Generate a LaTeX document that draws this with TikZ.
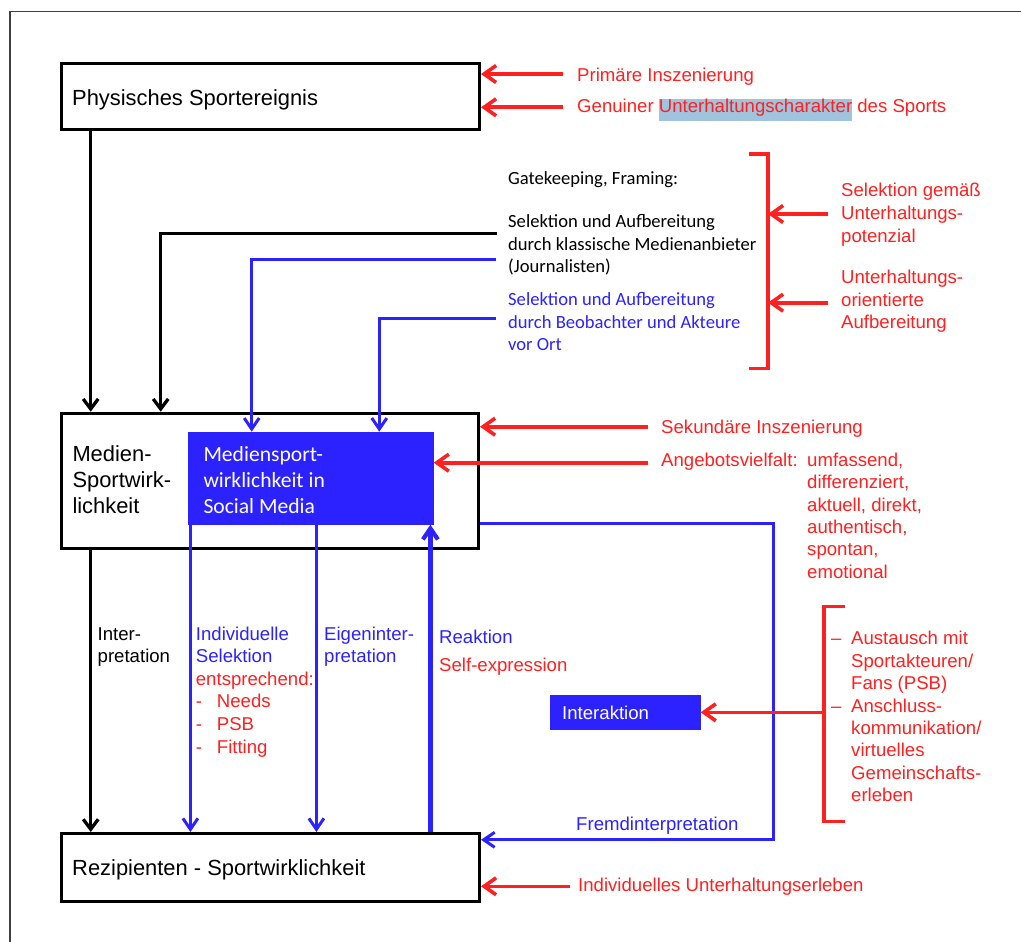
\documentclass[tikz,border=0pt]{standalone}
\usepackage{fontspec}
\setmainfont{Liberation Sans}
\newfontfamily\calibrifont{Carlito}
\usetikzlibrary{arrows.meta}
\definecolor{myred}{RGB}{255,32,32}
\definecolor{myblue}{RGB}{43,34,255}
\definecolor{hlblue}{RGB}{160,196,222}
\newcommand\fBox{\fontsize{21.9}{26.3}\selectfont}
\newcommand\fLab{\fontsize{18.6}{22.6}\selectfont}
\newcommand\fCal{\calibrifont\fontsize{18.6}{22.5}\selectfont}
\newcommand\fCalB{\calibrifont\fontsize{21.6}{25.9}\selectfont}
\begin{document}
\begin{tikzpicture}[x=1pt,y=-1pt,
  bx/.style={draw=black,line width=3pt,inner sep=0pt,anchor=north west},
  fbx/.style={fill=myblue,inner sep=0pt,anchor=north west},
  lbl/.style={inner sep=0pt,anchor=north west,align=left},
  rlab/.style={lbl,text=myred,font=\fLab},
  ulab/.style={lbl,text=myblue,font=\fLab},
  klab/.style={lbl,text=black,font=\fLab},
  arrK/.style={draw=black,line width=3.3pt,-{Straight Barb[length=10pt,width=15pt]}},
  arrU/.style={draw=myblue,line width=3pt,-{Straight Barb[length=11pt,width=15pt]}},
  arrR/.style={draw=myred,line width=3.6pt,-{Straight Barb[length=12pt,width=17pt]}},
  brk/.style={draw=myred,line width=3.4pt}]
\useasboundingbox (0,0) rectangle (1021,942);
% outer frame
\draw[line width=1.3pt,black!75] (10,942) -- (10,11.7) -- (1021,11.7);

% boxes
\node[bx,minimum width=418pt,minimum height=66pt] (b1) at (60,61.7) {};
\node[bx,minimum width=417pt,minimum height=135pt] (b2) at (60,411.7) {};
\node[bx,minimum width=418pt,minimum height=68pt] (b3) at (60,832) {};
\node[fbx,minimum width=245.6pt,minimum height=92.6pt] (mb) at (187.7,431.7) {};
\node[fbx,minimum width=151pt,minimum height=35.7pt] (ib) at (549.3,694.3) {};

% box texts
\node[lbl,font=\fBox] (t1) at (72,86.7) {\strut Physisches Sportereignis};
\node[lbl,font=\fBox] (t2) at (72.3,442.7) {\strut Medien-\\Sportwirk-\\lichkeit};
\node[lbl,font=\fBox] (t3) at (72,857) {\strut Rezipienten - Sportwirklichkeit};
\node[lbl,font=\fCalB,text=white] (tm) at (203.3,443.6) {\strut Mediensport-\\wirklichkeit in\\Social Media};
\node[lbl,font=\fLab,text=white] (ti) at (562,703.5) {\strut Interaktion};

% right labels
\node[rlab] (lp1) at (577,65.8) {\strut Primäre Inszenierung};
\node[rlab] (lp2) at (577,96.8) {\strut Genuiner {\setlength{\fboxsep}{0pt}\colorbox{hlblue}{\rule[-8pt]{0pt}{21pt}Unterhaltungscharakter}} des Sports};
\node[lbl,font=\fCal] (lg) at (508,168.5) {\strut Gatekeeping, Framing:};
\node[lbl,font=\fCal] (ls1) at (508,212) {\strut Selektion und Aufbereitung\\durch klassische Medienanbieter\\(Journalisten)};
\node[lbl,font=\fCal,text=myblue] (ls2) at (508,289.6) {\strut Selektion und Aufbereitung\\durch Beobachter und Akteure\\vor Ort};
\node[rlab] (lsg) at (841,180.8) {\strut Selektion gemäß\\Unterhaltungs-\\potenzial};
\node[rlab] (lua) at (841,267.5) {\strut Unterhaltungs-\\orientierte\\Aufbereitung};
\node[rlab] (lsek) at (661,417.5) {\strut Sekundäre Inszenierung};
\node[rlab] (lang) at (661,450.8) {\strut Angebotsvielfalt:};
\node[rlab,font=\fontsize{18.6}{22.3}\selectfont] (lang2) at (807,450.8) {\strut umfassend,\\differenziert,\\aktuell, direkt,\\authentisch,\\spontan,\\emotional};
\node[klab] (lint) at (97.5,624.1) {\strut Inter-\\pretation};
\node[lbl,font=\fLab] (lsel) at (195.7,624.1) {\strut\textcolor{myblue}{Individuelle}\\\textcolor{myblue}{Selektion}\\\textcolor{myred}{entsprechend:}\\\textcolor{myred}{\makebox[21pt][l]{-}Needs}\\\textcolor{myred}{\makebox[21pt][l]{-}PSB}\\\textcolor{myred}{\makebox[21pt][l]{-}Fitting}};
\node[ulab] (leig) at (324,624.1) {\strut Eigeninter-\\pretation};
\node[ulab] (lrea) at (439,627.5) {\strut Reaktion};
\node[rlab] (lself) at (439,655.8) {\strut Self-expression};
\node[rlab,font=\fontsize{18.6}{22.4}\selectfont] (lex) at (831,629.1) {\strut\makebox[20pt][l]{–}Austausch mit\\\hspace*{20pt}Sportakteuren/\\\hspace*{20pt}Fans (PSB)\\\makebox[20pt][l]{–}Anschluss-\\\hspace*{20pt}kommunikation/\\\hspace*{20pt}virtuelles\\\hspace*{20pt}Gemeinschafts-\\\hspace*{20pt}erleben};
\node[ulab] (lfremd) at (576,814.1) {\strut Fremdinterpretation};
\node[rlab] (lind) at (578,875.8) {\strut Individuelles Unterhaltungserleben};

% coordinates for free ends
\coordinate (k1) at (497,233.3);
\coordinate (k2) at (496,259.3);
\coordinate (k3) at (496,318.3);
\coordinate (br1t) at (768,154);
\coordinate (br1b) at (768,368.3);
\coordinate (br2t) at (824,606.7);
\coordinate (br2b) at (824,821.7);
\coordinate (r1) at (563,74);
\coordinate (r2) at (563,107.3);
\coordinate (r3) at (828,214);
\coordinate (r4) at (828,302.7);
\coordinate (r5) at (648,426.7);
\coordinate (r6) at (648,462.7);
\coordinate (r7) at (570,886.3);

% black connectors
\draw[arrK] ([xshift=30.7pt]b1.south west) -- ([xshift=30.7pt]b1.south west |- b2.north);
\draw[arrK] (k1) -| ([xshift=100.7pt]b2.north west);
\draw[arrK] ([xshift=30.7pt]b2.south west) -- ([xshift=30.7pt]b2.south west |- b3.north);

% blue connectors
\draw[arrU] (k2) -| ([xshift=64pt]mb.north west);
\draw[arrU] (k3) -| ([xshift=191.6pt]mb.north west);
\draw[arrU] ([xshift=2.7pt]mb.south west) -- ([xshift=2.7pt]mb.south west |- b3.north);
\draw[arrU] ([xshift=128.7pt]mb.south west) -- ([xshift=128.7pt]mb.south west |- b3.north);
\draw[arrU,line width=4.2pt] ([xshift=-3.3pt]mb.south east |- b3.north) -- ([xshift=-3.3pt]mb.south east);
\draw[arrU] ([yshift=-43pt]b2.east) -- ++(293.5,0) |- ([yshift=27.7pt]b3.east);

% red brackets
\draw[brk] (749,154) -- (br1t) -- (br1b) -- (749,368.3);
\draw[brk] (845,606.7) -- (br2t) -- (br2b) -- (845,821.7);

% red arrows
\draw[arrR] (r1) -- (r1 -| b1.east);
\draw[arrR] (r2) -- (r2 -| b1.east);
\draw[arrR] (r3) -- (r3 -| br1t);
\draw[arrR] (r4) -- (r4 -| br1t);
\draw[arrR] (r5) -- (r5 -| b2.east);
\draw[arrR] (r6) -- (r6 -| mb.east);
\draw[arrR] (br2t |- ib.east) -- (ib.east);
\draw[arrR] (r7) -- (r7 -| b3.east);
\end{tikzpicture}
\end{document}
